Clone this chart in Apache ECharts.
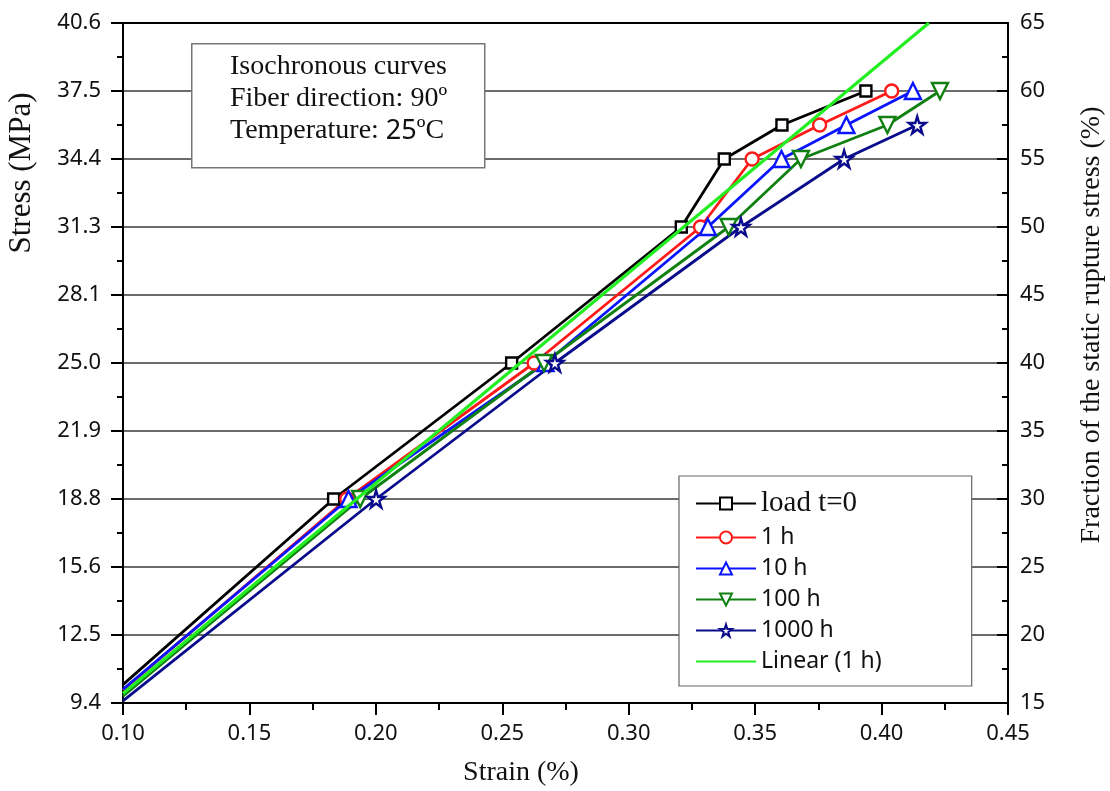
<!DOCTYPE html>
<html>
<head>
<meta charset="utf-8">
<script src="https://cdn.jsdelivr.net/npm/echarts@6/dist/echarts.min.js"></script>
<style>
  html, body { margin: 0; padding: 0; background: #fff; }
  #chart { width: 1110px; height: 791px; }
</style>
</head>
<body>
<div id="chart"></div>
<script>
// strain (%) vs fraction of static rupture stress (%)
var load0   = [[0.10, 16.35], [0.1833, 30], [0.2537, 40], [0.3208, 50], [0.3378, 55], [0.3606, 57.5], [0.3938, 60]];
var h1      = [[0.10, 15.95], [0.1885, 30], [0.2626, 40], [0.3284, 50], [0.3488, 55], [0.3755, 57.5], [0.4040, 60]];
var h10     = [[0.10, 16.0],  [0.1892, 30], [0.2671, 40], [0.3313, 50], [0.3604, 55], [0.3861, 57.5], [0.4124, 60]];
var h100    = [[0.10, 15.5],  [0.1938, 30], [0.2665, 40], [0.3395, 50], [0.3681, 55], [0.4023, 57.5], [0.4231, 60]];
var h1000   = [[0.10, 15.15], [0.2001, 30], [0.2708, 40], [0.3444, 50], [0.3852, 55], [0.4141, 57.5]];
var linear1 = [[0.10, 15.7],  [0.4187, 65]];

var seriesNames = ['load t=0', '1 h', '10 h', '100 h', '1000 h', 'Linear (1 h)'];
var noteLines = ['Isochronous curves', 'Fiber direction: 90º', 'Temperature: '];

var serif = 'Liberation Serif';
var sans = 'Noto Sans';
var star = 'path://M50,0 L61,35 L98,35 L68,57 L79,91 L50,70 L21,91 L32,57 L2,35 L39,35 Z';

// first point of each curve is the line start at the axis, no marker
function pts(arr) {
    return arr.map(function (p, i) {
        return i === 0 ? {value: p, symbol: 'none'} : p;
    });
}

function curve(name, data, color, symbol, size, rotate) {
    return {
        name: name,
        type: 'line',
        yAxisIndex: 1,
        data: pts(data),
        symbol: symbol,
        symbolSize: size,
        symbolRotate: rotate || 0,
        showAllSymbol: true,
        lineStyle: {color: color, width: 2.8},
        itemStyle: {color: '#fff', borderColor: color, borderWidth: 2.4},
        z: 3
    };
}

var legendData = seriesNames.map(function (n) {
    return n === 'Linear (1 h)' ? {name: n, itemStyle: {opacity: 0}} : n;
});

var chart = echarts.init(document.getElementById('chart'));
var option = {
    animation: false,
    backgroundColor: '#fff',
    grid: {left: 123, right: 102, top: 23, bottom: 88},
    legend: {
        orient: 'vertical',
        left: 679,
        top: 476,
        data: legendData,
        padding: [13, 90, 13, 16],
        itemGap: 8,
        itemWidth: 60,
        itemHeight: 15,
        borderColor: '#666',
        borderWidth: 1.2,
        backgroundColor: '#fff',
        textStyle: {fontFamily: sans, fontSize: 23, color: '#111', rich: {s: {fontFamily: serif, fontSize: 29, color: '#111'}}},
        formatter: function (n) { return n === 'load t=0' ? '{s|' + n + '}' : n; }
    },
    xAxis: [{
        type: 'value', min: 0.10, max: 0.45, interval: 0.05,
        axisLine: {lineStyle: {color: '#000', width: 2}},
        axisTick: {inside: false, length: 12, lineStyle: {color: '#000', width: 2}},
        minorTick: {show: true, splitNumber: 2, length: 7, lineStyle: {color: '#000', width: 2}},
        axisLabel: {margin: 20, fontFamily: sans, fontSize: 22, color: '#111',
            formatter: function (v) { return v.toFixed(2); }},
        splitLine: {show: false}
    }, {
        type: 'value', position: 'top', min: 0.10, max: 0.45,
        axisLine: {lineStyle: {color: '#000', width: 2}},
        axisTick: {show: false}, axisLabel: {show: false}, splitLine: {show: false}
    }],
    yAxis: [{
        type: 'value', position: 'left', min: 9.375, max: 40.625, interval: 3.125,
        axisLine: {show: true, lineStyle: {color: '#000', width: 2}},
        axisTick: {show: true, inside: false, length: 12, lineStyle: {color: '#000', width: 2}},
        minorTick: {show: true, splitNumber: 2, length: 6, lineStyle: {color: '#000', width: 2}},
        axisLabel: {margin: 22, fontFamily: sans, fontSize: 22, color: '#111',
            formatter: function (v) { return v.toFixed(1); }},
        splitLine: {show: false}
    }, {
        type: 'value', position: 'right', min: 15, max: 65, interval: 5,
        axisLine: {show: true, lineStyle: {color: '#000', width: 2}},
        axisTick: {show: true, inside: true, length: 11, lineStyle: {color: '#000', width: 2}},
        minorTick: {show: true, splitNumber: 2, length: 6, lineStyle: {color: '#000', width: 2}},
        axisLabel: {margin: 12, fontFamily: sans, fontSize: 22, color: '#111'},
        splitLine: {show: true, lineStyle: {color: '#3a3a3a', width: 1.6}}
    }],
    series: [
        curve('load t=0', load0, '#000000', 'rect', 11),
        curve('1 h', h1, '#ff1a1a', 'circle', 13),
        curve('10 h', h10, '#0a14ff', 'triangle', 16),
        curve('100 h', h100, '#108010', 'triangle', 16, 180),
        curve('1000 h', h1000, '#0a0a8c', star, 17),
        {
            name: 'Linear (1 h)', type: 'line', yAxisIndex: 1, data: linear1,
            symbol: 'none', lineStyle: {color: '#22ee22', width: 3.2},
            itemStyle: {color: '#22ee22'}, z: 4
        }
    ],
    graphic: [
        {
            type: 'rect', left: 191, top: 43, z: 10,
            shape: {width: 293, height: 124},
            style: {fill: '#fff', stroke: '#777', lineWidth: 1.5}
        },
        {
            type: 'text', left: 230, top: 53, z: 11,
            style: {
                text: '{a|' + noteLines[0] + '}\n{a|' + noteLines[1] + '}\n{a|' + noteLines[2] + '}{b|25}{a|ºC}',
                rich: {
                    a: {fontFamily: serif, fontSize: 28, lineHeight: 32, fill: '#111'},
                    b: {fontFamily: sans, fontSize: 27, lineHeight: 32, fill: '#111'}
                }
            }
        },
        {
            type: 'text', x: 521, y: 773, z: 11,
            style: {text: 'Strain (%)', font: '28px "Liberation Serif"', fill: '#111', align: 'center', verticalAlign: 'middle'}
        },
        {
            type: 'text', x: 22, y: 173, rotation: Math.PI / 2, z: 11,
            style: {text: 'Stress (MPa)', font: '31px "Liberation Serif"', fill: '#111', align: 'center', verticalAlign: 'middle'}
        },
        {
            type: 'text', x: 1092, y: 325, rotation: Math.PI / 2, z: 11,
            style: {text: 'Fraction of the static rupture stress (%)', font: '28px "Liberation Serif"', fill: '#111', align: 'center', verticalAlign: 'middle'}
        }
    ]
};
chart.setOption(option);
</script>
</body>
</html>
